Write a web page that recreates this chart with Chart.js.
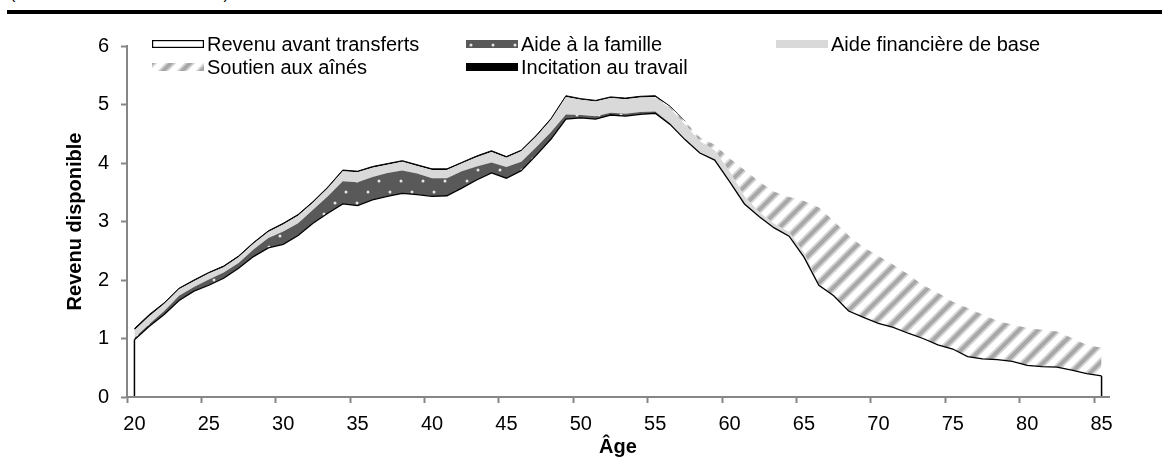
<!DOCTYPE html>
<html lang="fr">
<head>
<meta charset="utf-8">
<script src="https://cdn.jsdelivr.net/npm/chart.js@4.4.1/dist/chart.umd.min.js"></script>
<style>
    html, body { margin: 0; padding: 0; background: #fff; }
    body {
        width: 1162px; height: 459px; position: relative; overflow: hidden;
        font-family: 'Liberation Sans', Arial, sans-serif; color: #000;
    }
    #chartBox { position: absolute; left: 0; top: 0; width: 1162px; height: 459px; }
    .unit { position: absolute; left: 10px; top: -15px; font-size: 16px; line-height: 18px; white-space: nowrap; }
    .rule { position: absolute; left: 7px; right: 0; top: 10px; height: 4px; background: #000; }
    .legend-item {
        position: absolute; display: flex; align-items: center;
        font-size: 20px; line-height: 24px; white-space: nowrap; z-index: 2;
    }
    .legend-item canvas { margin-right: 3px; }
</style>
</head>
<body>
<div class="unit">(en milliers de dollars de 2010)</div>
<div class="rule"></div>
<div id="chartBox"><canvas id="revenuChart" width="1162" height="459"></canvas></div>
<div id="legend"></div>

<script>
const ages = [20, 21, 22, 23, 24, 25, 26, 27, 28, 29,
              30, 31, 32, 33, 34, 35, 36, 37, 38, 39,
              40, 41, 42, 43, 44, 45, 46, 47, 48, 49,
              50, 51, 52, 53, 54, 55, 56, 57, 58, 59,
              60, 61, 62, 63, 64, 65, 66, 67, 68, 69,
              70, 71, 72, 73, 74, 75, 76, 77, 78, 79,
              80, 81, 82, 83, 84, 85];

const revenu = [0.98, 1.21, 1.41, 1.65, 1.81, 1.91, 2.03, 2.20, 2.40, 2.55,
                2.61, 2.76, 2.97, 3.14, 3.30, 3.27, 3.37, 3.43, 3.48, 3.46,
                3.43, 3.44, 3.57, 3.71, 3.83, 3.74, 3.87, 4.13, 4.41, 4.75,
                4.77, 4.75, 4.82, 4.80, 4.83, 4.85, 4.66, 4.40, 4.17, 4.05,
                3.68, 3.30, 3.08, 2.89, 2.75, 2.39, 1.91, 1.73, 1.47, 1.36,
                1.26, 1.19, 1.09, 1.00, 0.89, 0.82, 0.69, 0.65, 0.64, 0.61,
                0.54, 0.52, 0.51, 0.46, 0.40, 0.36];

const famille = [0.03, 0.04, 0.06, 0.08, 0.07, 0.10, 0.10, 0.09, 0.12, 0.17,
                 0.22, 0.21, 0.23, 0.29, 0.39, 0.40, 0.39, 0.40, 0.39, 0.36,
                 0.31, 0.30, 0.29, 0.23, 0.18, 0.19, 0.15, 0.14, 0.12, 0.08,
                 0.05, 0.05, 0.04, 0.04, 0.04, 0.03, 0.02, 0, 0, 0,
                 0, 0, 0, 0, 0, 0, 0, 0, 0, 0,
                 0, 0, 0, 0, 0, 0, 0, 0, 0, 0,
                 0, 0, 0, 0, 0, 0];

const base = [0.13, 0.13, 0.12, 0.11, 0.10, 0.10, 0.09, 0.10, 0.10, 0.10,
              0.12, 0.13, 0.12, 0.14, 0.17, 0.17, 0.16, 0.14, 0.15, 0.13,
              0.14, 0.14, 0.13, 0.16, 0.18, 0.16, 0.18, 0.18, 0.21, 0.30,
              0.26, 0.25, 0.25, 0.25, 0.25, 0.24, 0.25, 0.26, 0.20, 0.17,
              0.18, 0.13, 0.08, 0.07, 0.07, 0.08, 0.02, 0, 0, 0,
              0, 0, 0, 0, 0, 0, 0, 0, 0, 0,
              0, 0, 0, 0, 0, 0];

const aines = [0, 0, 0, 0, 0, 0, 0, 0, 0, 0,
               0, 0, 0, 0, 0, 0, 0, 0, 0, 0,
               0, 0, 0, 0, 0, 0, 0, 0, 0, 0,
               0, 0, 0, 0, 0, 0.01, 0.03, 0.05, 0.07, 0.09,
               0.22, 0.45, 0.52, 0.55, 0.60, 0.88, 1.31, 1.28, 1.29, 1.20,
               1.15, 1.07, 1.01, 0.91, 0.89, 0.81, 0.83, 0.76, 0.66, 0.63,
               0.64, 0.63, 0.61, 0.55, 0.49, 0.48];

const travail = [0.03, 0.03, 0.02, 0.02, 0.02, 0.02, 0.02, 0.02, 0.02, 0.02,
                 0.02, 0.02, 0.02, 0.02, 0.02, 0.02, 0.02, 0.02, 0.02, 0.02,
                 0.02, 0.02, 0.02, 0.02, 0.02, 0.02, 0.02, 0.02, 0.02, 0.02,
                 0.02, 0.02, 0.02, 0.02, 0.02, 0.02, 0.01, 0, 0, 0,
                 0, 0, 0, 0, 0, 0, 0, 0, 0, 0,
                 0, 0, 0, 0, 0, 0, 0, 0, 0, 0,
                 0, 0, 0, 0, 0, 0];

const yTicks = [0, 1, 2, 3, 4, 5, 6];

const FONT = "'Liberation Sans', Arial, sans-serif";
const AXIS_GREY = '#868686';

// tile: dark grey with small light dots
function dotTile() {
    const c = document.createElement('canvas');
    c.width = 22; c.height = 22;
    const g = c.getContext('2d');
    g.fillStyle = '#595959';
    g.fillRect(0, 0, 22, 22);
    g.fillStyle = '#e6e6e6';
    [[5, 5], [16, 16]].forEach(([x, y]) => {
        g.beginPath();
        g.arc(x, y, 1.5, 0, Math.PI * 2);
        g.fill();
    });
    return c;
}

// tile: wide upward diagonal stripes
function hatchTile() {
    const s = 19;
    const c = document.createElement('canvas');
    c.width = s; c.height = s;
    const g = c.getContext('2d');
    g.fillStyle = '#ffffff';
    g.fillRect(0, 0, s, s);
    const stripe = (w, col) => {
        g.strokeStyle = col;
        g.lineWidth = w;
        for (let k = -1; k <= 1; k++) {
            g.beginPath();
            g.moveTo(k * s - s, 2 * s);
            g.lineTo(k * s + 2 * s, -s);
            g.stroke();
        }
    };
    stripe(7.5, '#d6d6d6');
    stripe(4, '#a8a8a8');
    return c;
}

const dotsImg = dotTile();
const hatchImg = hatchTile();

const canvas = document.getElementById('revenuChart');
const ctx = canvas.getContext('2d');
const dots = ctx.createPattern(dotsImg, 'repeat');
const hatch = ctx.createPattern(hatchImg, 'repeat');

// vertical edges of the first area at both ends
const endLines = {
    id: 'endLines',
    afterDatasetsDraw(chart) {
        const meta = chart.getDatasetMeta(0);
        const y0 = chart.scales.y.getPixelForValue(0);
        const c = chart.ctx;
        c.save();
        c.strokeStyle = '#000';
        c.lineWidth = 1.5;
        [meta.data[0], meta.data[meta.data.length - 1]].forEach(pt => {
            c.beginPath();
            c.moveTo(pt.x, pt.y);
            c.lineTo(pt.x, y0);
            c.stroke();
        });
        c.restore();
    }
};

new Chart(ctx, {
    type: 'line',
    data: {
        labels: ages,
        datasets: [
            {
                label: 'Revenu avant transferts',
                data: revenu,
                fill: 'origin',
                backgroundColor: '#ffffff',
                borderColor: '#000000',
                borderWidth: 1.3
            },
            {
                label: 'Aide à la famille',
                data: famille,
                fill: '-1',
                backgroundColor: dots,
                borderWidth: 0
            },
            {
                label: 'Aide financière de base',
                data: base,
                fill: '-1',
                backgroundColor: '#d9d9d9',
                borderWidth: 0
            },
            {
                label: 'Soutien aux aînés',
                data: aines,
                fill: '-1',
                backgroundColor: hatch,
                borderWidth: 0
            },
            {
                label: 'Incitation au travail',
                data: travail,
                fill: '-1',
                backgroundColor: '#000000',
                borderColor: '#000000',
                borderWidth: 1,
                segment: {
                    borderColor: c => (travail[c.p0DataIndex] === 0 && travail[c.p1DataIndex] === 0)
                        ? 'rgba(0,0,0,0)' : '#000000'
                }
            }
        ]
    },
    options: {
        responsive: false,
        animation: false,
        layout: { padding: { left: 60, right: 53, top: 46, bottom: 0 } },
        elements: {
            point: { radius: 0, hoverRadius: 0 },
            line: { tension: 0 }
        },
        plugins: {
            legend: { display: false },
            tooltip: { enabled: false }
        },
        scales: {
            x: {
                type: 'category',
                offset: true,
                grid: {
                    offset: true,
                    drawOnChartArea: false,
                    tickLength: 6,
                    tickWidth: 2,
                    tickColor: c => (c.index !== undefined && ages[c.index] % 5 === 0) ? AXIS_GREY : 'rgba(0,0,0,0)'
                },
                border: { color: AXIS_GREY, width: 2, z: 1 },
                ticks: {
                    autoSkip: false,
                    maxRotation: 0,
                    padding: 9,
                    color: '#000',
                    font: { family: FONT, size: 20 },
                    callback: (v, i) => ages[i] % 5 === 0 ? String(ages[i]) : ''
                },
                title: {
                    display: true,
                    text: 'Âge',
                    color: '#000',
                    padding: { top: 0, bottom: 0 },
                    font: { family: FONT, size: 20, weight: 'bold' }
                },
                afterFit: s => { s.height = 62; }
            },
            y: {
                stacked: true,
                min: 0,
                max: 6,
                afterBuildTicks: s => { s.ticks = yTicks.map(v => ({ value: v })); },
                grid: {
                    drawOnChartArea: false,
                    tickLength: 6,
                    tickWidth: 2,
                    tickColor: AXIS_GREY
                },
                border: { color: AXIS_GREY, width: 2, z: 1 },
                ticks: {
                    padding: 12,
                    color: '#000',
                    font: { family: FONT, size: 20 }
                },
                title: {
                    display: true,
                    text: 'Revenu disponible',
                    color: '#000',
                    padding: { top: 3, bottom: 0 },
                    font: { family: FONT, size: 20, weight: 'bold' }
                },
                afterFit: s => { s.width = 67; }
            }
        }
    },
    plugins: [endLines]
});

// legend laid out in three columns as in the original figure
const legendItems = [
    { text: 'Revenu avant transferts', x: 152, y: 44, fill: 'outline' },
    { text: 'Aide à la famille', x: 466, y: 44, fill: dotsImg },
    { text: 'Aide financière de base', x: 776, y: 44, fill: '#d9d9d9' },
    { text: 'Soutien aux aînés', x: 152, y: 67, fill: hatchImg },
    { text: 'Incitation au travail', x: 466, y: 67, fill: '#000000' }
];

const legendBox = document.getElementById('legend');
legendItems.forEach(item => {
    const div = document.createElement('div');
    div.className = 'legend-item';
    div.style.left = item.x + 'px';
    div.style.top = (item.y - 12) + 'px';
    const sw = document.createElement('canvas');
    sw.width = 52; sw.height = 8;
    const g = sw.getContext('2d');
    if (item.fill === 'outline') {
        g.fillStyle = '#fff';
        g.fillRect(0, 0, 52, 8);
        g.strokeStyle = '#000';
        g.lineWidth = 1.2;
        g.strokeRect(0.6, 0.6, 50.8, 6.8);
    } else if (typeof item.fill === 'string') {
        g.fillStyle = item.fill;
        g.fillRect(0, 0, 52, 8);
    } else {
        g.fillStyle = g.createPattern(item.fill, 'repeat');
        g.fillRect(0, 0, 52, 8);
    }
    div.appendChild(sw);
    const span = document.createElement('span');
    span.textContent = item.text;
    div.appendChild(span);
    legendBox.appendChild(div);
});
</script>
</body>
</html>
